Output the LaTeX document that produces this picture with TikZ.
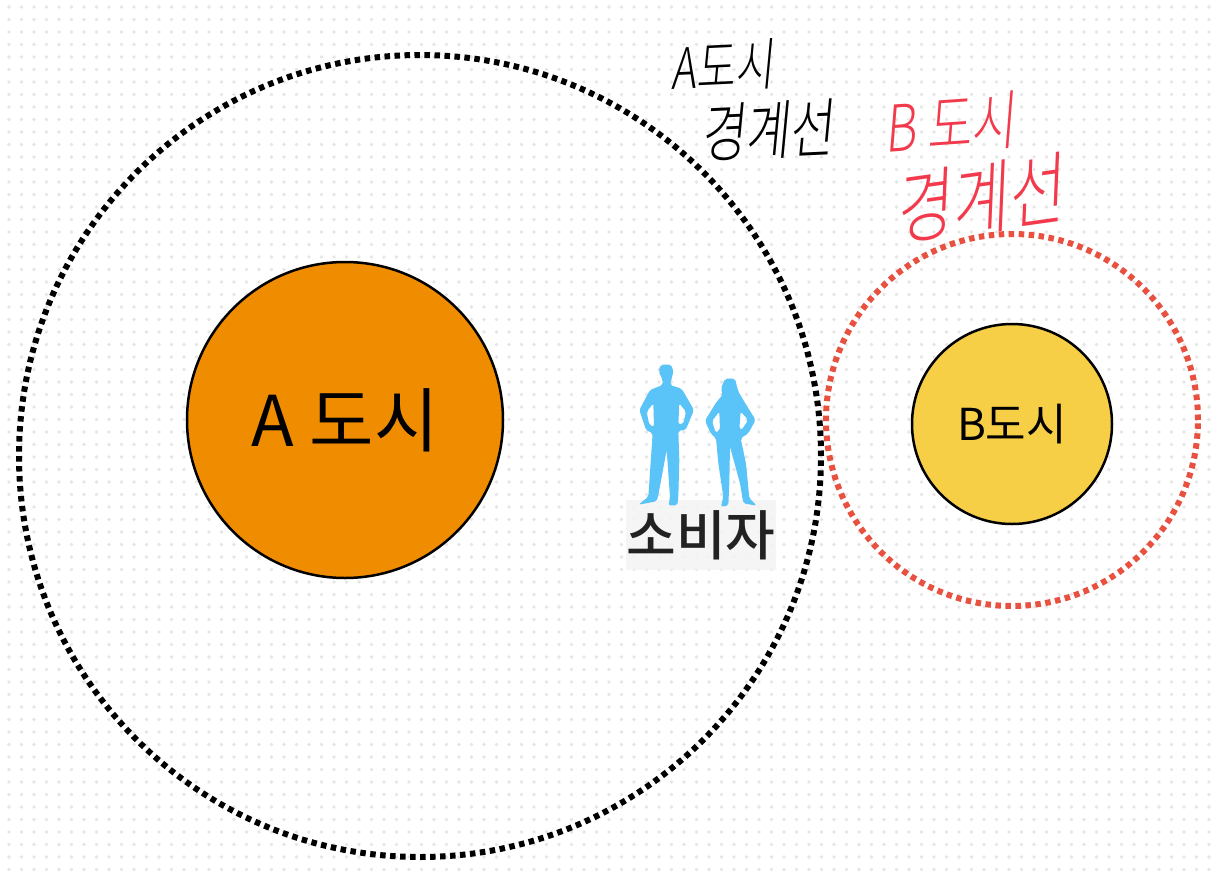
\documentclass[tikz,border=0pt]{standalone}
\usepackage{fontspec}
\usepackage{xcolor}
\setmainfont[BoldFont={Noto Sans CJK KR Medium}]{Noto Sans CJK KR}
\newfontfamily\penfont{Noto Sans CJK KR Light}
\usetikzlibrary{positioning}
\definecolor{dotgrid}{HTML}{e6e6e6}
\definecolor{ink}{HTML}{000000}
\definecolor{borderb}{HTML}{e8503f}
\definecolor{citya}{HTML}{f08c00}
\definecolor{cityb}{HTML}{f7cf47}
\definecolor{people}{HTML}{5ac3f7}
\definecolor{hand}{HTML}{f23a4c}
\definecolor{label}{HTML}{222222}
\newcommand{\fs}[1]{\penalty0\fontsize{#1}{#1}\selectfont}

\begin{document}
\begin{tikzpicture}[x=1pt, y=-1pt,
  city/.style={circle, draw=ink, line width=2.5pt, inner sep=0pt, align=center},
  limit/.style={circle, line width=6pt, dash pattern=on 5.5pt off 4.5pt, inner sep=0pt},
  script/.style={inner sep=0pt, transform shape, xslant=0.12, yscale=1.35},
  figure/.style={fill=people, even odd rule, rounded corners=2pt}
]
  \useasboundingbox (0,0) rectangle (1219,873);
  \fill[white] (0,0) rectangle (1219,873);
  \foreach \i in {0,...,96}
    \foreach \j in {0,...,69}
      \fill[dotgrid] (9+12.5*\i,7+12.5*\j) circle (1.9pt);

  \node[limit, draw=ink, minimum size=802pt] (limita) at (420,456) {};
  \node[limit, draw=borderb, minimum size=372pt] (limitb) at (1012,420) {};
  \node[city, fill=citya, minimum size=316pt, font=\fs{70}] (a) at (345,420) {A 도시};
  \node[city, fill=cityb, minimum size=200pt, font=\fs{44}] (b) at (1012,424) {B도시};

  \node[fill=label!5, fill opacity=0.85, text opacity=1, text=label, minimum width=150pt, minimum height=70pt, inner sep=0pt, font=\bfseries\fs{54}] (consumer) at (701,535) {소비자};

  \begin{scope}[shift={(620,350)}, x=0.3333pt, y=-0.3333pt]
    \fill[figure] (128,105) -- (128,90) -- (116,65) -- (122,44) -- (154,44) -- (160,65) -- (150,105) -- (185,116) -- (222,180) -- (197,240) -- (175,242) -- (178,330) -- (175,440) -- (172,466) -- (146,466) -- (150,440) -- (140,300) -- (115,435) -- (110,454) -- (56,464) -- (85,440) -- (98,250) -- (78,240) -- (58,180) -- (90,120) -- cycle
      (100,160) -- (80,185) -- (88,225) -- (102,230) -- cycle
      (178,160) -- (198,185) -- (190,222) -- (175,222) -- cycle;
    \fill[figure] (308,135) -- (303,115) -- (315,86) -- (345,86) -- (355,125) -- (385,175) -- (407,210) -- (385,250) -- (362,265) -- (378,340) -- (388,445) -- (410,467) -- (370,460) -- (360,400) -- (330,290) -- (328,400) -- (325,467) -- (303,470) -- (310,440) -- (295,340) -- (288,265) -- (272,250) -- (255,212) -- (290,155) -- cycle
      (298,185) -- (276,213) -- (287,248) -- (300,240) -- cycle
      (362,185) -- (385,210) -- (365,240) -- (358,238) -- cycle;
  \end{scope}

  \node[script, text=ink, font=\penfont\fs{42}, rotate=2] (handa) at (725,66) {A도시};
  \node[script, text=ink, font=\penfont\fs{48}, rotate=2] (handaline) at (770,130) {경계선};
  \node[script, text=hand, font=\penfont\fs{48}, rotate=3] (handb) at (953,124) {B 도시};
  \node[script, text=hand, font=\penfont\fs{60}, rotate=6] (handbline) at (983,198) {경계선};
\end{tikzpicture}
\end{document}
